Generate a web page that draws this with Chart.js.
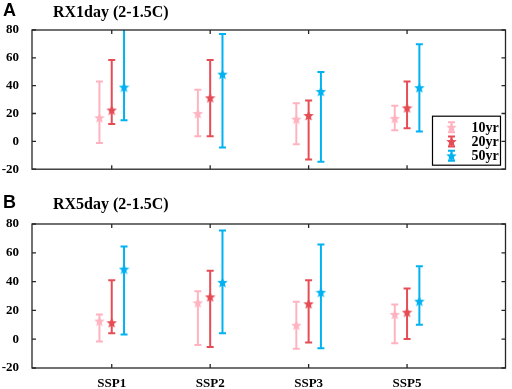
<!DOCTYPE html>
<html>
<head>
<meta charset="utf-8">
<script src="https://cdn.jsdelivr.net/npm/chart.js@4.4.1/dist/chart.umd.min.js"></script>
<style>
  body { margin: 0; background: #fff; width: 512px; height: 389px; position: relative; overflow: hidden; }
  .panel { position: absolute; left: 0; width: 512px; }
  .tag { position: absolute; left: 3px; font: bold 18px "Liberation Sans", Arial, sans-serif; color: #000; }
  .ttl { position: absolute; left: 53px; font: bold 16px "Liberation Serif", "Times New Roman", serif; color: #000; }
</style>
</head>
<body>
<div class="panel" style="top:0;height:190px"><canvas id="chartA"></canvas></div>
<div class="panel" style="top:190px;height:199px"><canvas id="chartB"></canvas></div>
<div class="tag" style="top:0px">A</div>
<div class="ttl" style="top:3px">RX1day (2-1.5C)</div>
<div class="tag" style="top:192px">B</div>
<div class="ttl" style="top:195px">RX5day (2-1.5C)</div>
<script>
  const scenarios = ["SSP1", "SSP2", "SSP3", "SSP5"];
  const periods = ["10yr", "20yr", "50yr"];
  const colors = ["#ffb3c1", "#e64c55", "#00b2f2"];

  // RX1day: median / low / high for each return period
  const rx1Mid10 = [17, 20, 16, 16.5];
  const rx1Low10 = [-1.2, 3.7, -2, 8];
  const rx1High10 = [43, 37, 27.4, 25.5];
  const rx1Mid20 = [22.5, 31.3, 18.6, 24.1];
  const rx1Low20 = [12.4, 3.7, -13.1, 9.4];
  const rx1High20 = [58.4, 58.4, 29.4, 43];
  const rx1Mid50 = [39, 48.3, 35.9, 38.6];
  const rx1Low50 = [15.2, -4.4, -14.7, 7.1];
  const rx1High50 = [84, 77.2, 49.9, 69.7];

  // RX5day
  const rx5Mid10 = [12.6, 25.3, 9.7, 17.2];
  const rx5Low10 = [-1.6, -4.1, -6.7, -2.8];
  const rx5High10 = [17.2, 33.3, 26, 24.1];
  const rx5Mid20 = [11.5, 29.4, 24.6, 18.8];
  const rx5Low20 = [4.1, -5.5, -2.3, 0.2];
  const rx5High20 = [40.9, 47.6, 40.9, 35.2];
  const rx5Mid50 = [48.7, 39.5, 32.6, 26.4];
  const rx5Low50 = [3.2, 4.1, -6.2, 10.1];
  const rx5High50 = [64.4, 75.4, 65.7, 50.6];

  const yTicks = [-20, 0, 20, 40, 60, 80];
  const offsets = [-0.125, 0, 0.125];

  function makeStar(color, size) {
    const c = document.createElement("canvas");
    c.width = size; c.height = size;
    const g = c.getContext("2d");
    const cx = size / 2, cy = size / 2 + 0.5, ro = size / 2, ri = ro * 0.45;
    g.beginPath();
    for (let i = 0; i < 10; i++) {
      const r = i % 2 ? ri : ro;
      const a = -Math.PI / 2 + i * Math.PI / 5;
      g.lineTo(cx + r * Math.cos(a), cy + r * Math.sin(a));
    }
    g.closePath();
    g.fillStyle = color;
    g.fill();
    return c;
  }
  const stars = colors.map(c => makeStar(c, 11));

  function barData(low, high, off) {
    const d = [];
    low.forEach((l, i) => {
      d.push({ x: i + 1 + off, y: l }, { x: i + 1 + off, y: high[i] }, { x: i + 1 + off, y: null });
    });
    return d;
  }

  function buildDatasets(mids, lows, highs) {
    const ds = [];
    periods.forEach((p, k) => {
      ds.push({
        type: "line", label: p, data: barData(lows[k], highs[k], offsets[k]),
        borderColor: colors[k], borderWidth: 2, showLine: true, spanGaps: false,
        pointStyle: "line", pointRadius: 3.5, pointBorderWidth: 2, pointBorderColor: colors[k],
        pointHoverRadius: 3.5, clip: 0
      });
    });
    periods.forEach((p, k) => {
      ds.push({
        type: "scatter", label: p + " median",
        data: mids[k].map((v, i) => ({ x: i + 1 + offsets[k], y: v })),
        pointStyle: stars[k], pointRadius: 5.5
      });
    });
    return ds;
  }

  const boxPlugin = {
    id: "box",
    afterDatasetsDraw(chart, args, opts) {
      const { ctx, chartArea: a, scales } = chart;
      ctx.save();
      ctx.strokeStyle = "#262626";
      ctx.lineWidth = 1.3;
      ctx.strokeRect(a.left, a.top, a.right - a.left, a.bottom - a.top);
      ctx.beginPath();
      scenarios.forEach((s, i) => {
        const x = scales.x.getPixelForValue(i + 1);
        ctx.moveTo(x, a.bottom); ctx.lineTo(x, a.bottom - 4);
        ctx.moveTo(x, a.top); ctx.lineTo(x, a.top + 4);
      });
      yTicks.forEach(v => {
        const y = scales.y.getPixelForValue(v);
        ctx.moveTo(a.left, y); ctx.lineTo(a.left + 4, y);
        ctx.moveTo(a.right, y); ctx.lineTo(a.right - 4, y);
      });
      ctx.stroke();

      if (opts.legend) {
        const w = 68, h = 49;
        const bx = a.right - 5 - w, by = a.bottom - 4 - h;
        ctx.fillStyle = "#fff";
        ctx.fillRect(bx, by, w, h);
        ctx.lineWidth = 1.2;
        ctx.strokeStyle = "#000";
        ctx.strokeRect(bx, by, w, h);
        ctx.font = "bold 14px 'Liberation Serif', serif";
        ctx.textBaseline = "middle";
        periods.forEach((p, k) => {
          const cy = by + 11 + k * 14.3;
          const ix = bx + 19;
          ctx.strokeStyle = colors[k];
          ctx.lineWidth = 2;
          ctx.beginPath();
          ctx.moveTo(ix, cy - 5); ctx.lineTo(ix, cy + 5);
          ctx.moveTo(ix - 3.5, cy - 5); ctx.lineTo(ix + 3.5, cy - 5);
          ctx.moveTo(ix - 3.5, cy + 5); ctx.lineTo(ix + 3.5, cy + 5);
          ctx.stroke();
          ctx.drawImage(stars[k], ix - 5.5, cy - 5.5);
          ctx.fillStyle = "#000";
          ctx.fillText(p, bx + 39, cy + 1);
        });
      }
      ctx.restore();
    }
  };

  function makeChart(id, mids, lows, highs, showX, xHeight, padTop, legend) {
    return new Chart(document.getElementById(id).getContext("2d"), {
      data: { datasets: buildDatasets(mids, lows, highs) },
      options: {
        responsive: true, maintainAspectRatio: false, animation: false,
        layout: { padding: { top: padTop, right: 4, left: 0, bottom: 0 } },
        plugins: { legend: { display: false }, tooltip: { enabled: false }, box: { legend: legend } },
        scales: {
          x: {
            type: "linear", min: 0.19, max: 5,
            grid: { display: false, drawTicks: false }, border: { display: false },
            afterBuildTicks: s => { s.ticks = scenarios.map((n, i) => ({ value: i + 1 })); },
            afterFit: s => { s.height = xHeight; },
            ticks: {
              display: showX, padding: 8, color: "#000",
              font: { family: "'Liberation Serif', serif", size: 13, weight: "bold" },
              callback: v => scenarios[v - 1]
            }
          },
          y: {
            min: -20, max: 80,
            grid: { display: false, drawTicks: false }, border: { display: false },
            afterBuildTicks: s => { s.ticks = yTicks.map(v => ({ value: v })); },
            afterFit: s => { s.width = 32; },
            ticks: {
              padding: 13, color: "#000",
              font: { family: "'Liberation Serif', serif", size: 13, weight: "bold" }
            }
          }
        }
      },
      plugins: [boxPlugin]
    });
  }

  makeChart("chartA",
    [rx1Mid10, rx1Mid20, rx1Mid50], [rx1Low10, rx1Low20, rx1Low50], [rx1High10, rx1High20, rx1High50],
    false, 15, 30, true);
  makeChart("chartB",
    [rx5Mid10, rx5Mid20, rx5Mid50], [rx5Low10, rx5Low20, rx5Low50], [rx5High10, rx5High20, rx5High50],
    true, 21, 34, false);
</script>
</body>
</html>
